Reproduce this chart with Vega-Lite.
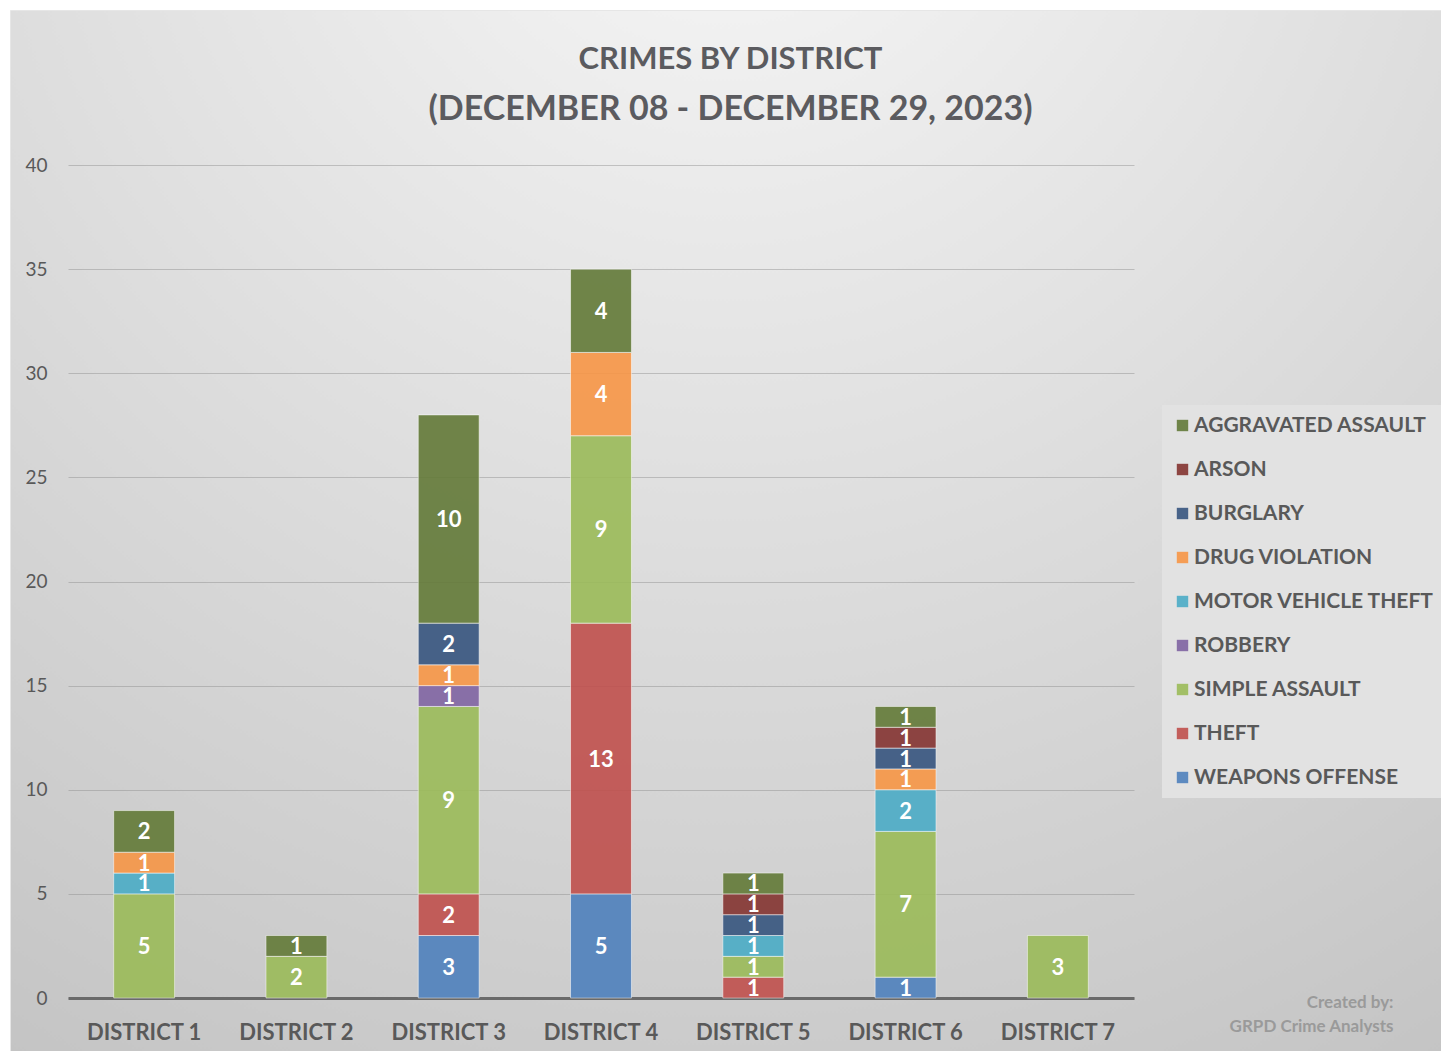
{
  "$schema": "https://vega.github.io/schema/vega-lite/v6.json",
  "width": 1431,
  "height": 1041,
  "autosize": {"type": "none"},
  "padding": {"left": 10, "top": 10, "right": 0, "bottom": 0},
  "background": "#ffffff",
  "view": {
    "stroke": "#e6e6e6",
    "strokeWidth": 1,
    "fill": {"gradient": "radial", "x1": 0.5, "y1": 0, "r1": 0, "x2": 0.5, "y2": 0, "r2": 1.0, "stops": [{"offset": 0, "color": "#f8f8f8"}, {"offset": 1, "color": "#c4c4c4"}]}
  },
  "title": {
    "text": "CRIMES BY DISTRICT",
    "subtitle": "(DECEMBER 08 - DECEMBER 29, 2023)",
    "anchor": "middle",
    "frame": "group",
    "dx": 5,
    "font": "Lato",
    "fontSize": 31,
    "fontWeight": "bold",
    "color": "#5b5b5f",
    "subtitleFont": "Lato",
    "subtitleFontSize": 34,
    "subtitleFontWeight": "bold",
    "subtitleColor": "#5b5b5f",
    "subtitlePadding": 17,
    "offset": -118
  },
  "data": {
    "values": [
      {"district": "DISTRICT 1", "crime": "SIMPLE ASSAULT", "count": 5},
      {"district": "DISTRICT 1", "crime": "MOTOR VEHICLE THEFT", "count": 1},
      {"district": "DISTRICT 1", "crime": "DRUG VIOLATION", "count": 1},
      {"district": "DISTRICT 1", "crime": "AGGRAVATED ASSAULT", "count": 2},
      {"district": "DISTRICT 2", "crime": "SIMPLE ASSAULT", "count": 2},
      {"district": "DISTRICT 2", "crime": "AGGRAVATED ASSAULT", "count": 1},
      {"district": "DISTRICT 3", "crime": "WEAPONS OFFENSE", "count": 3},
      {"district": "DISTRICT 3", "crime": "THEFT", "count": 2},
      {"district": "DISTRICT 3", "crime": "SIMPLE ASSAULT", "count": 9},
      {"district": "DISTRICT 3", "crime": "ROBBERY", "count": 1},
      {"district": "DISTRICT 3", "crime": "DRUG VIOLATION", "count": 1},
      {"district": "DISTRICT 3", "crime": "BURGLARY", "count": 2},
      {"district": "DISTRICT 3", "crime": "AGGRAVATED ASSAULT", "count": 10},
      {"district": "DISTRICT 4", "crime": "WEAPONS OFFENSE", "count": 5},
      {"district": "DISTRICT 4", "crime": "THEFT", "count": 13},
      {"district": "DISTRICT 4", "crime": "SIMPLE ASSAULT", "count": 9},
      {"district": "DISTRICT 4", "crime": "DRUG VIOLATION", "count": 4},
      {"district": "DISTRICT 4", "crime": "AGGRAVATED ASSAULT", "count": 4},
      {"district": "DISTRICT 5", "crime": "THEFT", "count": 1},
      {"district": "DISTRICT 5", "crime": "SIMPLE ASSAULT", "count": 1},
      {"district": "DISTRICT 5", "crime": "MOTOR VEHICLE THEFT", "count": 1},
      {"district": "DISTRICT 5", "crime": "BURGLARY", "count": 1},
      {"district": "DISTRICT 5", "crime": "ARSON", "count": 1},
      {"district": "DISTRICT 5", "crime": "AGGRAVATED ASSAULT", "count": 1},
      {"district": "DISTRICT 6", "crime": "WEAPONS OFFENSE", "count": 1},
      {"district": "DISTRICT 6", "crime": "SIMPLE ASSAULT", "count": 7},
      {"district": "DISTRICT 6", "crime": "MOTOR VEHICLE THEFT", "count": 2},
      {"district": "DISTRICT 6", "crime": "DRUG VIOLATION", "count": 1},
      {"district": "DISTRICT 6", "crime": "BURGLARY", "count": 1},
      {"district": "DISTRICT 6", "crime": "ARSON", "count": 1},
      {"district": "DISTRICT 6", "crime": "AGGRAVATED ASSAULT", "count": 1},
      {"district": "DISTRICT 7", "crime": "SIMPLE ASSAULT", "count": 3}
    ]
  },
  "transform": [
    {"stack": "count", "groupby": ["district"], "sort": [{"field": "crime", "order": "descending"}], "as": ["v0", "v1"]},
    {"calculate": "(datum.v0 + datum.v1) / 2", "as": "mid"}
  ],
  "encoding": {
    "x": {
      "field": "district",
      "type": "nominal",
      "scale": {"range": [58, 1124], "paddingInner": 0.6, "paddingOuter": 0.3},
      "axis": {
        "offset": -53,
        "labelAngle": 0,
        "labelFont": "Lato",
        "labelFontSize": 22,
        "labelFontWeight": "bold",
        "labelColor": "#595959",
        "labelPadding": 24,
        "ticks": false,
        "domain": true,
        "domainColor": "#6a6a6a",
        "domainWidth": 3,
        "grid": false,
        "title": ["Created by:", "GRPD Crime Analysts"],
        "titleX": 1383,
        "titleY": 9,
        "titleAlign": "right",
        "titleAnchor": null,
        "titleBaseline": "alphabetic",
        "titleFont": "Lato",
        "titleFontSize": 17,
        "titleFontWeight": "bold",
        "titleColor": "#9a9a9a",
        "titleLineHeight": 24
      }
    }
  },
  "layer": [
    {
      "mark": {"type": "bar", "opacity": 0.9, "stroke": "#ffffff", "strokeWidth": 1, "strokeOpacity": 0.55},
      "encoding": {
        "y": {
          "field": "v1",
          "type": "quantitative",
          "scale": {"domain": [0, 40], "range": [988, 155]},
          "axis": {
            "offset": -58,
            "values": [0, 5, 10, 15, 20, 25, 30, 35, 40],
            "title": null,
            "domain": false,
            "ticks": false,
            "labelFont": "Lato",
            "labelFontSize": 19,
            "labelColor": "#595959",
            "labelPadding": 21,
            "gridColor": "#8c8c8c",
            "gridOpacity": 0.45,
            "gridWidth": 1
          }
        },
        "y2": {"field": "v0"},
        "color": {
          "field": "crime",
          "type": "nominal",
          "scale": {
            "domain": ["AGGRAVATED ASSAULT", "ARSON", "BURGLARY", "DRUG VIOLATION", "MOTOR VEHICLE THEFT", "ROBBERY", "SIMPLE ASSAULT", "THEFT", "WEAPONS OFFENSE"],
            "range": ["#637A38", "#843431", "#37557F", "#F79646", "#4BACC6", "#8064A2", "#9BBB59", "#C0504D", "#4F81BD"]
          },
          "legend": {
            "orient": "none",
            "legendX": 1152,
            "legendY": 395,
            "title": null,
            "fillColor": "#e2e2e2",
            "padding": 10,
            "symbolType": "square",
            "symbolSize": 130,
            "symbolStrokeWidth": 0,
            "symbolOpacity": 0.9,
            "labelFont": "Lato",
            "labelFontSize": 21,
            "labelFontWeight": "bold",
            "labelColor": "#595959",
            "labelOffset": 1,
            "labelLimit": 400,
            "rowPadding": 22
          }
        }
      }
    },
    {
      "mark": {"type": "text", "font": "Lato", "fontSize": 22, "fontWeight": "bold", "color": "#ffffff", "baseline": "middle", "dy": 1},
      "encoding": {
        "y": {"field": "mid", "type": "quantitative", "scale": {"domain": [0, 40], "range": [988, 155]}},
        "text": {"field": "count", "type": "quantitative"}
      }
    }
  ]
}
